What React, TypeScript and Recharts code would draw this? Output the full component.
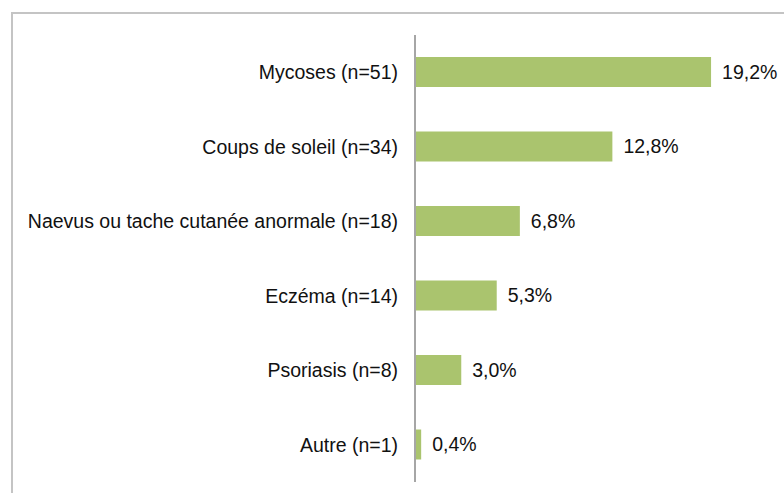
import React from 'react';
import { BarChart, Bar, XAxis, YAxis, LabelList } from 'recharts';

const categories = [
  'Mycoses (n=51)',
  'Coups de soleil (n=34)',
  'Naevus ou tache cutanée anormale (n=18)',
  'Eczéma (n=14)',
  'Psoriasis (n=8)',
  'Autre (n=1)',
];
const values = [19.2, 12.8, 6.8, 5.3, 3.0, 0.4];

const data = categories.map((name, i) => ({ name, value: values[i] }));

const fmt = (v: any) => Number(v).toFixed(1).replace('.', ',') + '%';

export default function App() {
  return (
    <div style={{ position: 'absolute', left: 0, top: 0, width: 784, height: 493, background: '#fff', fontFamily: '"Liberation Sans", Arial, sans-serif' }}>
      <div style={{ position: 'absolute', left: 11, top: 12, width: 773, height: 481, borderTop: '2px solid #c4c4c4', borderLeft: '2px solid #c4c4c4' }} />
      <div style={{ position: 'absolute', left: 0, top: 0 }}>
        <BarChart
          width={784}
          height={493}
          data={data}
          layout="vertical"
          margin={{ top: 35, right: 60.6, bottom: 11, left: 0 }}
          barCategoryGap={0}
        >
          <XAxis type="number" domain={[0, 20]} hide />
          <YAxis
            type="category"
            dataKey="name"
            width={415}
            axisLine={{ stroke: '#a6a6a6', strokeWidth: 2 }}
            tickLine={false}
            tickSize={6}
            tickMargin={11}
            interval={0}
            tick={{ fill: '#111', fontSize: 19.5, fontFamily: '"Liberation Sans", Arial, sans-serif' }}
          />
          <Bar dataKey="value" fill="#aac46e" barSize={30} isAnimationActive={false}>
            <LabelList
              dataKey="value"
              position="right"
              offset={11}
              formatter={fmt}
              style={{ fill: '#111', fontSize: 19.5, fontFamily: '"Liberation Sans", Arial, sans-serif' }}
            />
          </Bar>
        </BarChart>
      </div>
    </div>
  );
}
